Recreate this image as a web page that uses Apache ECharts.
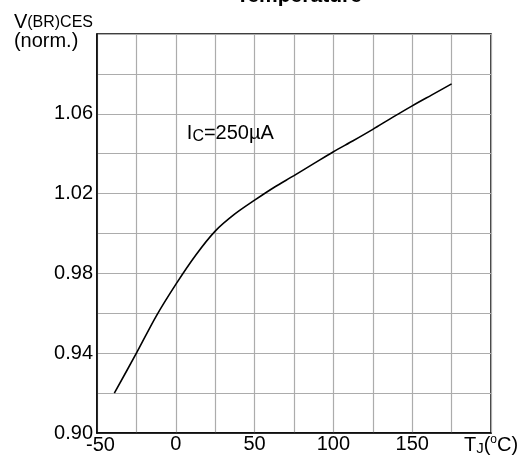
<!DOCTYPE html>
<html>
<head>
<meta charset="utf-8">
<script src="https://cdn.jsdelivr.net/npm/echarts@6/dist/echarts.min.js"></script>
<style>
html,body{margin:0;padding:0;background:#fff;}
#chart{width:527px;height:457px;}
</style>
</head>
<body>
<div id="chart"></div>
<script>
// Junction temperature (°C)
const tempC = [-39, -25, -12.5, 0, 12.5, 25, 37.5, 50, 62.5, 75, 87.5, 100, 112.5, 125, 137.5, 150, 162.5, 175];
// Normalized breakdown voltage V(BR)CES
const vbrNorm = [0.920, 0.940, 0.9585, 0.9745, 0.989, 1.0012, 1.0098, 1.0167, 1.0232, 1.0290, 1.0350, 1.0410, 1.0465, 1.0522, 1.0582, 1.0640, 1.0695, 1.0750];
const xTickLabels = ['-50', '0', '50', '100', '150'];
const yTickLabels = ['0.90', '0.94', '0.98', '1.02', '1.06'];
const titleText = 'Temperature';
const annotation = { x: 7, y: 1.05 };

const FONT = 'Liberation Sans, Arial, Helvetica, sans-serif';
const chart = echarts.init(document.getElementById('chart'), null, { renderer: 'canvas' });

const seriesData = tempC.map((t, i) => [t, vbrNorm[i]]);

chart.setOption({
  animation: false,
  backgroundColor: '#fff',
  title: {
    text: titleText,
    left: 294, textAlign: 'center', top: -19,
    textStyle: { fontFamily: FONT, fontSize: 21, fontWeight: 'bold', color: '#000' }
  },
  grid: { left: 97, right: 36, top: 34, bottom: 24, show: true, borderColor: '#000', borderWidth: 1.5, backgroundColor: 'transparent' },
  xAxis: {
    type: 'value', min: -50, max: 200, interval: 25,
    axisLine: { show: true, onZero: false, lineStyle: { color: '#000', width: 1.5 } },
    axisTick: { show: false },
    splitLine: { show: true, lineStyle: { color: '#acacac', width: 1.2 } },
    axisLabel: {
      margin: 1, color: '#000', fontFamily: FONT, fontSize: 20,
      formatter: function (v) {
        const r = Math.round(v);
        if (r === 200) return '{t|T}{j|J}{m|(}{o|o}{m|C)}';
        const s = String(r);
        if (s === '-50') return '{neg|-50}';
        return xTickLabels.indexOf(s) >= 0 ? s : '';
      },
      rich: {
        t: { fontFamily: FONT, fontSize: 20, lineHeight: 22, color: '#000', verticalAlign: 'middle' },
        m: { fontFamily: FONT, fontSize: 20, lineHeight: 22, color: '#000', verticalAlign: 'middle' },
        j: { fontFamily: FONT, fontSize: 15, lineHeight: 8, color: '#000', verticalAlign: 'bottom' },
        o: { fontFamily: FONT, fontSize: 12, lineHeight: 18, color: '#000', verticalAlign: 'top' },
        neg: { fontFamily: FONT, fontSize: 20, lineHeight: 22, color: '#000', padding: [0, 0, 0, 7] }
      }
    }
  },
  yAxis: {
    type: 'value', min: 0.90, max: 1.10, interval: 0.02,
    axisLine: { show: true, onZero: false, lineStyle: { color: '#000', width: 1.5 } },
    axisTick: { show: false },
    splitLine: { show: true, lineStyle: { color: '#acacac', width: 1.2 } },
    axisLabel: {
      margin: 4, color: '#000', fontFamily: FONT, fontSize: 20,
      formatter: function (v) {
        const s = (Math.round(v * 100) / 100).toFixed(2);
        if (s === '1.10') return '{v|V}{s|(BR)CES}\n{n|(norm.)}';
        return yTickLabels.indexOf(s) >= 0 ? s : '';
      },
      rich: {
        v: { fontFamily: FONT, fontSize: 20, lineHeight: 18, color: '#000', verticalAlign: 'middle', align: 'left' },
        s: { fontFamily: FONT, fontSize: 16, lineHeight: 8, color: '#000', verticalAlign: 'bottom', align: 'left' },
        n: { fontFamily: FONT, fontSize: 20, lineHeight: 24, color: '#000', verticalAlign: 'top', align: 'left' }
      }
    }
  },
  series: [{
    type: 'line',
    data: seriesData,
    smooth: 0.3,
    showSymbol: false,
    lineStyle: { color: '#000', width: 1.6 },
    markPoint: {
      symbol: 'circle', symbolSize: 0,
      data: [{ coord: [annotation.x, annotation.y] }],
      label: {
        show: true, position: 'right', distance: 0,
        formatter: '{i|I}{c|C}{t|=250µA}',
        rich: {
          i: { fontFamily: FONT, fontSize: 20, lineHeight: 22, color: '#000', verticalAlign: 'middle' },
          c: { fontFamily: FONT, fontSize: 16, lineHeight: 8, color: '#000', verticalAlign: 'bottom' },
          t: { fontFamily: FONT, fontSize: 20, lineHeight: 22, color: '#000', verticalAlign: 'middle' }
        }
      }
    }
  }]
});
</script>
</body>
</html>
